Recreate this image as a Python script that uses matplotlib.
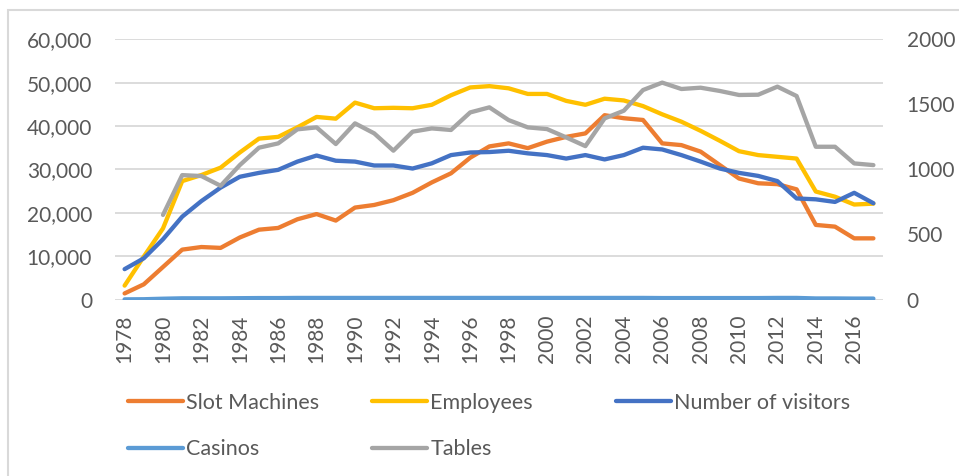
#!/usr/bin/env python3
"""Atlantic City casino indicators, 1978-2017, on two y axes."""

import numpy as np
import matplotlib
matplotlib.use("Agg")
import matplotlib.pyplot as plt
from matplotlib.patches import Rectangle

years = list(range(1978, 2018))

slot_machines = [1400, 3500, 7500, 11500, 12100, 11900, 14300, 16100, 16500, 18500,
                 19700, 18200, 21200, 21800, 22900, 24600, 27000, 29100, 32700, 35300,
                 36000, 34900, 36400, 37500, 38300, 42500, 41800, 41400, 36000, 35600,
                 34100, 31000, 27900, 26800, 26600, 25400, 17200, 16800, 14100, 14100]
employees = [3200, 9900, 16400, 27300, 28700, 30400, 33900, 37100, 37500, 39700,
             42100, 41700, 45400, 44100, 44200, 44100, 44900, 47100, 48900, 49200,
             48700, 47400, 47400, 45800, 44900, 46300, 45900, 44600, 42700, 41000,
             38900, 36600, 34200, 33300, 32900, 32500, 24900, 23700, 21900, 22100]
visitors = [7000, 9500, 13900, 19100, 22700, 25800, 28300, 29200, 29900, 31800,
            33200, 32000, 31800, 30900, 30900, 30200, 31400, 33300, 33900, 34000,
            34300, 33700, 33300, 32500, 33300, 32300, 33300, 35000, 34600, 33300,
            31800, 30200, 29200, 28500, 27300, 23300, 23100, 22500, 24600, 22200]
# secondary axis
casinos = [1, 2, 6, 9, 9, 9, 10, 11, 11, 12, 12, 12, 12, 12, 12, 12, 12, 12, 12, 12,
           12, 12, 12, 12, 12, 12, 12, 12, 11, 11, 11, 11, 11, 11, 12, 12, 8, 8, 7, 7]
tables = [np.nan, np.nan, 650, 956, 949, 874, 1033, 1167, 1200, 1308,
          1323, 1195, 1354, 1277, 1144, 1290, 1315, 1303, 1438, 1477,
          1379, 1323, 1310, 1246, 1179, 1392, 1451, 1610, 1667, 1618,
          1628, 1603, 1572, 1574, 1636, 1564, 1174, 1174, 1046, 1033]

left_ticks = [0, 10000, 20000, 30000, 40000, 50000, 60000]
right_ticks = [0, 500, 1000, 1500, 2000]

TEXT = "#595959"
GRID = "#D9D9D9"
FS = 15
LEG_FS = 15.5


def main() -> int:
    plt.rcParams["font.family"] = ["Lato", "DejaVu Sans"]
    fig = plt.figure(figsize=(9.59, 4.76), dpi=100)
    ax = fig.add_axes([115 / 959, 1 - 299.5 / 476, (883 - 115) / 959, (299.5 - 39.3) / 476])
    ax2 = ax.twinx()

    x = np.arange(len(years))
    lw = 3.1
    style = dict(lw=lw, solid_capstyle="round", solid_joinstyle="round")
    l1, = ax.plot(x, slot_machines, color="#ED7D31", label="Slot Machines", **style)
    l2, = ax.plot(x, employees, color="#FFC000", label="Employees", **style)
    l3, = ax.plot(x, visitors, color="#4472C4", label="Number of visitors", **style)
    l4, = ax2.plot(x, casinos, color="#5B9BD5", label="Casinos", **style)
    l5, = ax2.plot(x, tables, color="#A5A5A5", label="Tables", **style)

    ax.set_xlim(-0.5, len(years) - 0.5)
    ax.set_ylim(0, 60000)
    ax2.set_ylim(0, 2000)
    ax.set_yticks(left_ticks)
    ax.set_yticklabels([f"{v:,}" for v in left_ticks])
    ax2.set_yticks(right_ticks)
    ax2.set_yticklabels([str(v) for v in right_ticks])
    ax.set_xticks(x[::2])
    ax.set_xticklabels([str(y) for y in years[::2]], rotation=90)

    ax.grid(axis="y", color=GRID, lw=1.3)
    ax.set_axisbelow(True)
    for a in (ax, ax2):
        for s in a.spines.values():
            s.set_visible(False)
        a.tick_params(length=0, labelsize=FS, labelcolor=TEXT)
    ax.tick_params(axis="y", pad=16.5)
    ax.tick_params(axis="x", pad=11)
    ax2.tick_params(axis="y", pad=17)

    # legend laid out in fixed-width columns like the original
    cols = [([l1, l4], 128), ([l2, l5], 372), ([l3], 616)]
    for handles, x0 in cols:
        fig.legend(handles=handles, loc="upper left",
                   bbox_to_anchor=(x0 / 959, 1 - 393 / 476), frameon=False,
                   fontsize=LEG_FS, labelcolor=TEXT, handlelength=2.56,
                   handletextpad=0.15, borderpad=0, borderaxespad=0,
                   labelspacing=1.22)

    fig.add_artist(Rectangle((8 / 959, -0.1), 1.2, 1.1 - 10 / 476,
                             transform=fig.transFigure, fill=False,
                             edgecolor=GRID, lw=1.5))

    fig.savefig("out.png", dpi=100)
    return 0


if __name__ == "__main__":
    raise SystemExit(main())
